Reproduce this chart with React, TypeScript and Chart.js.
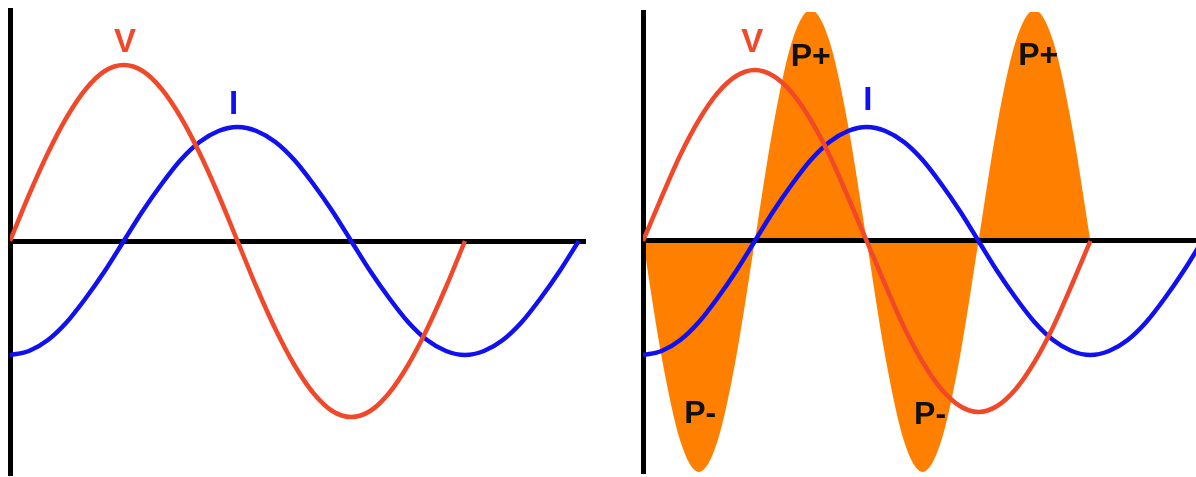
import React, { useEffect, useRef } from 'react';
import { Chart, registerables } from 'chart.js';

Chart.register(...registerables);

// Phase of each sample, in degrees of the voltage cycle
const phaseDeg = [0, 15, 30, 45, 60, 75, 90, 105, 120, 135, 150, 165, 180, 195, 210, 225, 240, 255, 270, 285, 300, 315, 330, 345, 360, 375, 390, 405, 420, 435, 450];

// Left panel: voltage and current
const leftVoltage = [0, 46, 88, 124, 152, 170, 176, 170, 152, 124, 88, 46, 0, -46, -88, -124, -152, -170, -176, -170, -152, -124, -88, -46, 0];
const leftCurrent = [-114, -110, -99, -81, -57, -30, 0, 30, 57, 81, 99, 110, 114, 110, 99, 81, 57, 30, 0, -30, -57, -81, -99, -110, -114, -110, -99, -81, -57, -30, 0];

// Right panel: voltage, current and power
const rightVoltage = [0, 44, 86, 121, 148, 165, 171, 165, 148, 121, 86, 44, 0, -44, -86, -121, -148, -165, -171, -165, -148, -121, -86, -44, 0];
const rightCurrent = [-114, -110, -99, -81, -57, -30, 0, 30, 57, 81, 99, 110, 114, 110, 99, 81, 57, 30, 0, -30, -57, -81, -99, -110, -114, -110, -99, -81, -57, -30, 0];
const rightPower = [0, -116, -200, -231, -200, -116, 0, 116, 200, 231, 200, 116, 0, -116, -200, -231, -200, -116, 0, 116, 200, 231, 200, 116, 0];

// Curve labels
const leftLabelText = ['V', 'I'];
const leftLabelX = [91, 177];
const leftLabelY = [198, 136];
const rightLabelText = ['V', 'I', 'P+', 'P+', 'P-', 'P-'];
const rightLabelX = [88, 181, 135, 318, 46, 231];
const rightLabelY = [198, 140, 184, 185, -173, -174];

const RED = '#f2482a';
const BLUE = '#1010f0';
const ORANGE = '#ff8000';

const toPoints = (xs: number[], ys: number[]) => ys.map((y, i) => ({ x: xs[i], y }));

const labelColor = (t: string) => (t === 'V' ? RED : t === 'I' ? BLUE : '#111');
const labelFont = (t: string) =>
  t === 'V' || t === 'I' ? 'bold 33px "Liberation Sans", Arial, sans-serif' : 'bold 32px "Liberation Sans", Arial, sans-serif';

function makeLabelPlugin(texts: string[], xs: number[], ys: number[]) {
  return {
    id: 'curveLabels',
    afterDatasetsDraw(chart: any) {
      const { ctx, scales } = chart;
      ctx.save();
      texts.forEach((t, i) => {
        ctx.font = labelFont(t);
        ctx.fillStyle = labelColor(t);
        ctx.textAlign = 'center';
        ctx.textBaseline = 'middle';
        ctx.fillText(t, scales.x.getPixelForValue(xs[i]), scales.y.getPixelForValue(ys[i]));
      });
      ctx.restore();
    },
  };
}

function lineDs(data: number[], color: string) {
  return {
    data: toPoints(phaseDeg, data),
    borderColor: color,
    borderWidth: 4.5,
    pointRadius: 0,
    fill: false,
    cubicInterpolationMode: 'monotone',
  };
}

type PanelProps = {
  left: number;
  width: number;
  padding: { left: number; right: number; top: number; bottom: number };
  xMax: number;
  yMin: number;
  yMax: number;
  datasets: any[];
  labels: { t: string[]; x: number[]; y: number[] };
};

function Panel({ left, width, padding, xMax, yMin, yMax, datasets, labels }: PanelProps) {
  const ref = useRef<HTMLCanvasElement | null>(null);
  useEffect(() => {
    if (!ref.current) return;
    const chart = new Chart(ref.current, {
      type: 'line',
      data: { datasets },
      options: {
        animation: false,
        responsive: true,
        maintainAspectRatio: false,
        layout: { padding },
        plugins: {
          legend: { display: false },
          tooltip: { enabled: false },
          filler: { drawTime: 'beforeDraw' },
        },
        scales: {
          x: {
            type: 'linear',
            min: 0,
            max: xMax,
            position: { y: 0 },
            ticks: { display: false },
            grid: { display: false, drawTicks: false },
            border: { display: true, color: '#000', width: 5 },
          },
          y: {
            type: 'linear',
            min: yMin,
            max: yMax,
            position: 'left',
            ticks: { display: false },
            grid: { display: false, drawTicks: false },
            border: { display: true, color: '#000', width: 5 },
          },
        },
      } as any,
      plugins: [makeLabelPlugin(labels.t, labels.x, labels.y)],
    });
    return () => chart.destroy();
  }, []);
  return (
    <div style={{ position: 'absolute', left, top: 0, width, height: 477 }}>
      <canvas ref={ref} />
    </div>
  );
}

export default function App() {
  return (
    <div style={{ position: 'fixed', left: 0, top: 0, width: 1196, height: 477, background: '#fff', overflow: 'hidden' }}>
      <Panel
        left={0}
        width={600}
        padding={{ left: 10, right: 15, top: 10, bottom: 2 }}
        xMax={455}
        yMin={-234}
        yMax={231}
        datasets={[lineDs(leftVoltage, RED), lineDs(leftCurrent, BLUE)]}
        labels={{ t: leftLabelText, x: leftLabelX, y: leftLabelY }}
      />
      <Panel
        left={600}
        width={596}
        padding={{ left: 43, right: 0, top: 12, bottom: 4 }}
        xMax={445}
        yMin={-232}
        yMax={229}
        datasets={[
          {
            data: toPoints(phaseDeg, rightPower),
            borderColor: 'transparent',
            borderWidth: 0,
            backgroundColor: ORANGE,
            pointRadius: 0,
            fill: 'origin',
            cubicInterpolationMode: 'monotone',
          },
          lineDs(rightVoltage, RED),
          lineDs(rightCurrent, BLUE),
        ]}
        labels={{ t: rightLabelText, x: rightLabelX, y: rightLabelY }}
      />
    </div>
  );
}
